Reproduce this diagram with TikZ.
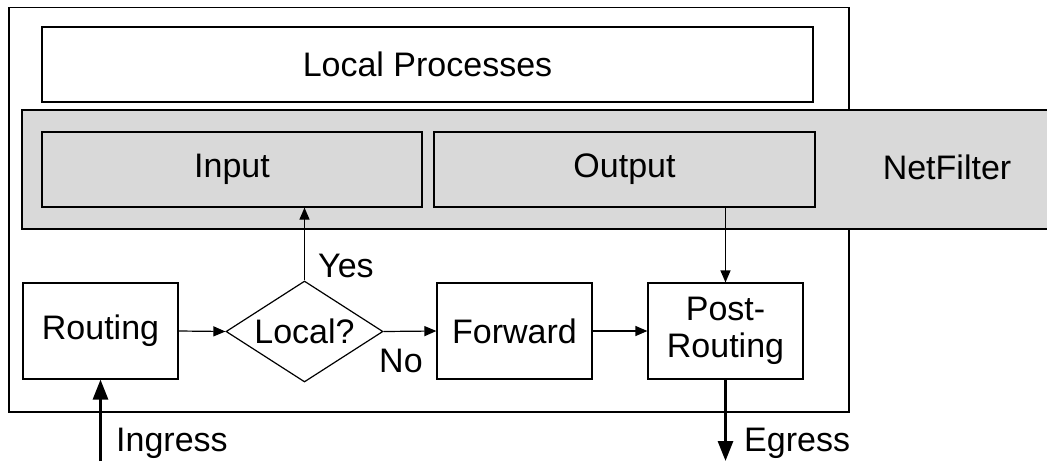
\documentclass[tikz,border=0pt]{standalone}
\usepackage{fontspec}
\setmainfont{Liberation Sans}
\usetikzlibrary{shapes.geometric,arrows.meta}
\definecolor{nfgrey}{HTML}{D9D9D9}
\tikzset{
  every node/.style={font=\fontsize{34}{37}\selectfont, inner sep=0pt},
  box/.style={draw, line width=1.2pt, rectangle},
  smallbox/.style={box, minimum width=155pt, minimum height=96pt, align=center},
  chainbox/.style={box, fill=nfgrey, minimum width=380pt, minimum height=75pt},
  decision/.style={draw, line width=1.2pt, diamond, aspect=1.55,
    minimum width=157pt, minimum height=101pt},
  flow/.style={line width=1.2pt, -{Triangle[length=12pt,width=10pt]}},
  io/.style={line width=3pt, -{Triangle[length=20pt,width=15pt]}},
  lbl/.style={anchor=west}
}
\begin{document}
\begin{tikzpicture}[x=1pt,y=-1pt]
\useasboundingbox (0,0) rectangle (1047,461);

% host boundary and user space
\node[box, minimum width=840pt, minimum height=404.5pt] (host) at (429,209.75) {};
\node[box, minimum width=771pt, minimum height=75pt] (local) at (427.5,64.5) {Local Processes};

% netfilter band, running off the right edge
\fill[nfgrey] (22,110) rectangle (1047,229);
\draw[line width=1.2pt] (1047,110) -- (22,110) -- (22,229) -- (1047,229);
\node (nf) at (947,167) {NetFilter};
\node[chainbox] (input) at (232,169.5) {Input};
\node[chainbox, minimum width=381pt] (output) at (624.5,169.5) {Output};

% routing path
\node[smallbox] (routing) at (100.5,331) {Routing};
\node[decision] (islocal) at (304.5,331.5) {Local?};
\node[smallbox] (forward) at (514.5,331) {Forward};
\node[smallbox] (post) at (725.5,331) {Post-\\Routing};

\coordinate (inpt) at (100.5,461);
\coordinate (outpt) at (725.5,461);

\draw[flow] (routing.east) -- (islocal.west);
\draw[flow] (islocal.east) -- (forward.west);
\draw[flow] (forward.east) -- (post.west);
\draw[flow] (islocal.north) -- (islocal.north |- input.south);
\draw[flow] (post.north |- output.south) -- (post.north);
\draw[io] (inpt) -- (routing.south);
\draw[io] (post.south) -- (outpt);

\node[lbl] (yes) at (318,266) {Yes};
\node[lbl] (no) at (379,361) {No};
\node[lbl] (ing) at (116,443) {Ingress};
\node[lbl] (egr) at (744,443) {Egress};
\end{tikzpicture}
\end{document}
